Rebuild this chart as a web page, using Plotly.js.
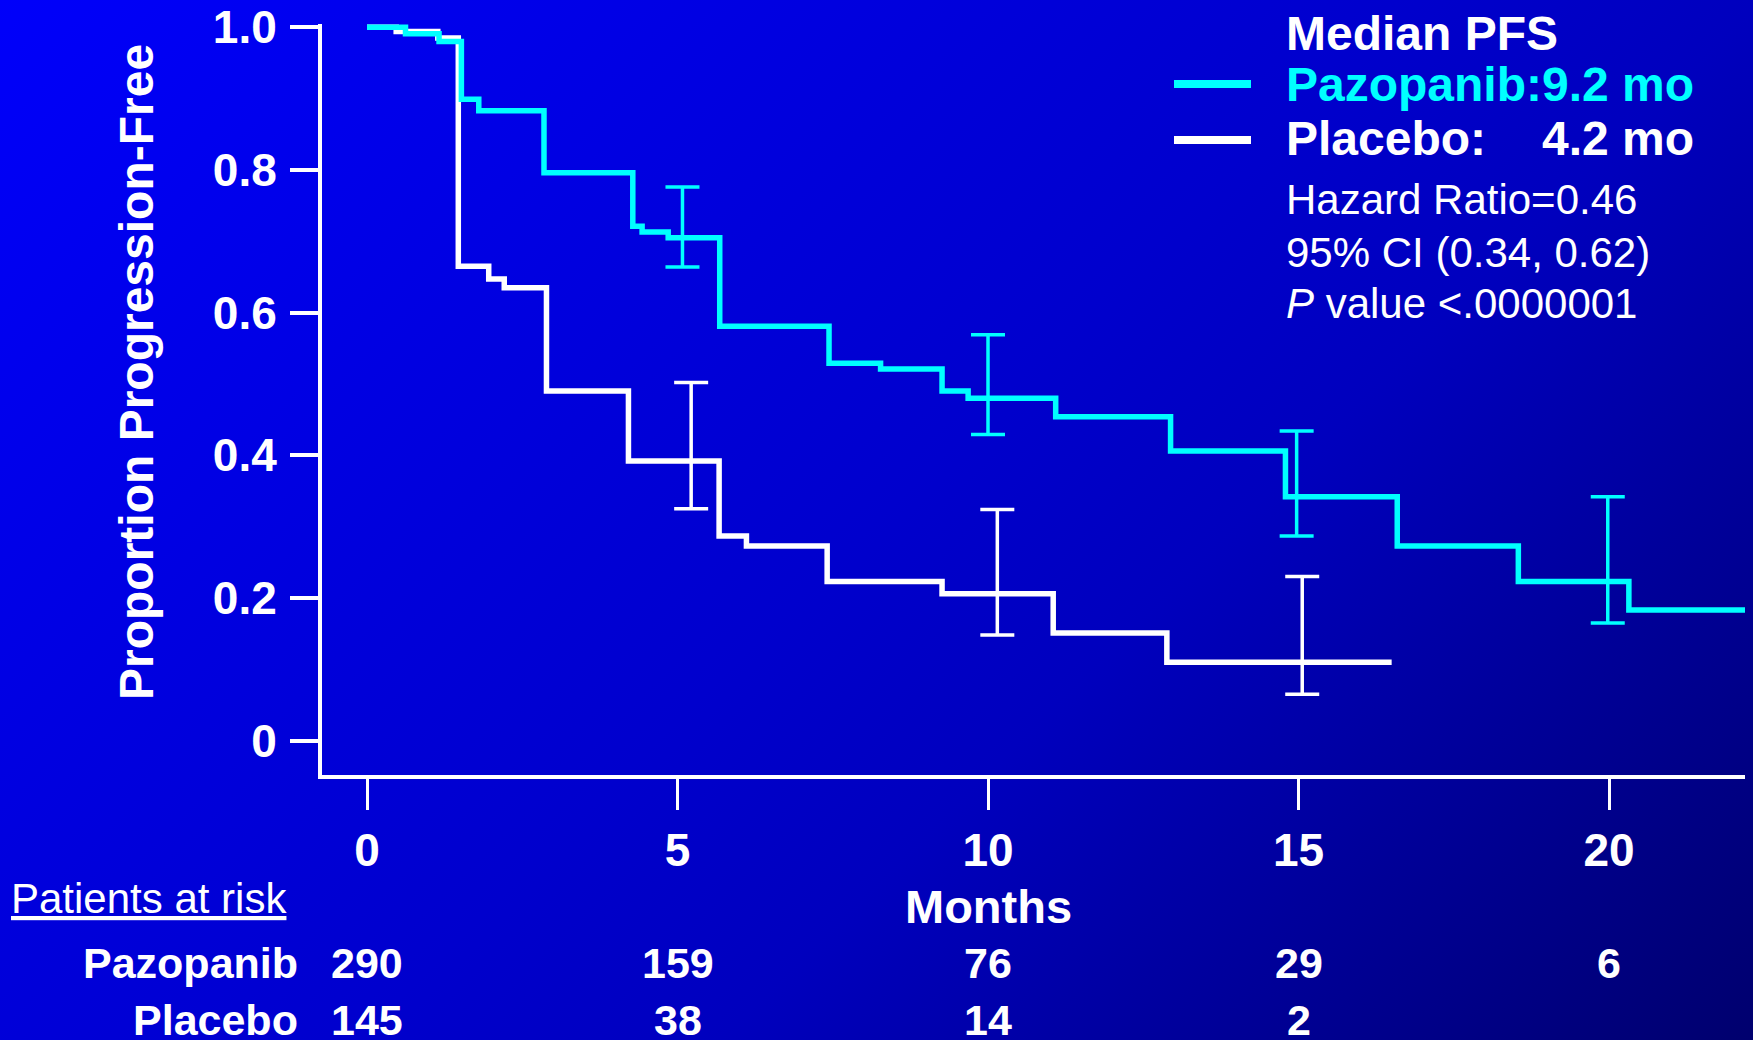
<!DOCTYPE html>
<html>
<head>
<meta charset="utf-8">
<script src="https://cdn.plot.ly/plotly-3.0.1.min.js"></script>
<style>
  html, body { margin: 0; padding: 0; }
  #chart {
    width: 1753px;
    height: 1040px;
    background: linear-gradient(135deg, #0000FA 0%, #0000CD 50%, #0000BE 63%, #00006E 100%);
  }
</style>
</head>
<body>
<div id="chart"></div>
<script>
// Kaplan–Meier progression-free survival, step starts (months) and proportion progression-free
const pazopanibMonths = [0, 0.62, 1.16, 1.52, 1.80, 2.85, 4.28, 4.43, 4.85, 5.68, 7.44, 8.27, 9.26, 9.68, 11.09, 12.94, 14.79, 16.59, 18.54, 20.32, 22.25];
const pazopanibPFS    = [1.0, 0.991, 0.980, 0.899, 0.883, 0.796, 0.721, 0.713, 0.705, 0.581, 0.529, 0.521, 0.490, 0.480, 0.454, 0.406, 0.342, 0.273, 0.223, 0.183, 0.183];

const placeboMonths = [0, 0.47, 1.14, 1.47, 1.96, 2.21, 2.89, 4.21, 5.67, 6.11, 7.41, 9.26, 11.05, 12.88, 16.50];
const placeboPFS    = [1.0, 0.994, 0.985, 0.665, 0.647, 0.635, 0.490, 0.392, 0.287, 0.273, 0.223, 0.206, 0.151, 0.110, 0.110];

// 95% confidence intervals shown at selected time points
const pazopanibCIMonths = [5.08, 10.0, 14.97, 19.98];
const pazopanibCILow    = [0.664, 0.429, 0.287, 0.165];
const pazopanibCIHigh   = [0.776, 0.569, 0.434, 0.342];

const placeboCIMonths = [5.22, 10.15, 15.06];
const placeboCILow    = [0.325, 0.148, 0.065];
const placeboCIHigh   = [0.502, 0.324, 0.230];

// Axis ticks
const xTickVals = [0, 5, 10, 15, 20];
const yTickVals = [0, 0.2, 0.4, 0.6, 0.8, 1.0];
const yTickText = ['0', '0.2', '0.4', '0.6', '0.8', '1.0'];

// Patients at risk
const riskMonths    = [0, 5, 10, 15, 20];
const riskPazopanib = [290, 159, 76, 29, 6];
const riskPlacebo   = [145, 38, 14, 2];

// Summary statistics
const medianPazopanib = '9.2 mo';
const medianPlacebo   = '4.2 mo';
const hazardRatio     = '0.46';
const ciText          = '(0.34, 0.62)';
const pValueText      = '&lt;.0000001';

const CYAN = '#00FFFF';
const WHITE = '#FFFFFF';
const FONT = 'Liberation Sans, Arial, sans-serif';

// Survival value of a step curve at time t
function stepValue(xs, ys, t) {
  let v = ys[0];
  for (let i = 0; i < xs.length; i++) { if (xs[i] <= t) v = ys[i]; }
  return v;
}

// Page geometry
const W = 1753, H = 1040;
const M = { l: 322, r: 8, t: 24, b: 265 };
const plotW = W - M.l - M.r, plotH = H - M.t - M.b;
const px = x => (x - M.l) / plotW;   // page pixel -> paper x
const py = y => (H - M.b - y) / plotH; // page pixel -> paper y

function errTrace(xs, lo, hi, curveX, curveY, color) {
  const mid = xs.map(t => stepValue(curveX, curveY, t));
  return {
    x: xs, y: mid, type: 'scatter', mode: 'markers',
    marker: { size: 1, color: 'rgba(0,0,0,0)' },
    error_y: {
      type: 'data', symmetric: false,
      array: hi.map((h, i) => h - mid[i]),
      arrayminus: lo.map((l, i) => mid[i] - l),
      color: color, thickness: 3.5, width: 17
    },
    showlegend: false, hoverinfo: 'skip'
  };
}

const traces = [
  { x: placeboMonths, y: placeboPFS, type: 'scatter', mode: 'lines',
    line: { shape: 'hv', color: WHITE, width: 5.5 }, name: 'Placebo', showlegend: false },
  { x: pazopanibMonths, y: pazopanibPFS, type: 'scatter', mode: 'lines',
    line: { shape: 'hv', color: CYAN, width: 5.5 }, name: 'Pazopanib', showlegend: false },
  errTrace(placeboCIMonths, placeboCILow, placeboCIHigh, placeboMonths, placeboPFS, WHITE),
  errTrace(pazopanibCIMonths, pazopanibCILow, pazopanibCIHigh, pazopanibMonths, pazopanibPFS, CYAN)
];

const bold = (size, color) => ({ family: FONT, size: size, color: color || WHITE, weight: 'bold' });
const regular = (size, color) => ({ family: FONT, size: size, color: color || WHITE });

function note(text, x, y, font, opts) {
  return Object.assign({
    text: text, x: px(x), y: py(y), xref: 'paper', yref: 'paper',
    xanchor: 'left', yanchor: 'middle', showarrow: false, font: font,
    borderpad: 0, borderwidth: 0
  }, opts || {});
}

const annotations = [
  note('Median PFS', 1286, 33, bold(48)),
  note('Pazopanib:' + medianPazopanib, 1286, 85, bold(48, CYAN)),
  note('Placebo:', 1286, 139, bold(48)),
  note(medianPlacebo, 1694, 139, bold(48), { xanchor: 'right' }),
  note('Hazard Ratio=' + hazardRatio, 1286, 199, regular(42)),
  note('95% CI ' + ciText, 1286, 252, regular(42)),
  note('<i>P</i> value ' + pValueText, 1286, 303, regular(42)),
  note('Proportion Progression-Free', 136, 372, bold(48), { xanchor: 'center', textangle: -90 }),
  note('Months', 0, 906, bold(47), { xref: 'x', x: 10, xanchor: 'center' }),
  note('<u>Patients at risk</u>', 11, 898, regular(42)),
  note('Pazopanib', 298, 963, bold(43), { xanchor: 'right' }),
  note('Placebo', 298, 1020, bold(43), { xanchor: 'right' })
];
riskPazopanib.forEach((n, i) => annotations.push(
  note(String(n), 0, 963, bold(43), { xref: 'x', x: riskMonths[i], xanchor: 'center' })));
riskPlacebo.forEach((n, i) => annotations.push(
  note(String(n), 0, 1020, bold(43), { xref: 'x', x: riskMonths[i], xanchor: 'center' })));

// Legend swatches
const shapes = [
  { type: 'line', xref: 'paper', yref: 'paper', x0: px(1174), x1: px(1251), y0: py(84), y1: py(84),
    line: { color: CYAN, width: 8 } },
  { type: 'line', xref: 'paper', yref: 'paper', x0: px(1174), x1: px(1251), y0: py(140), y1: py(140),
    line: { color: WHITE, width: 8 } }
];

const layout = {
  width: W, height: H,
  margin: M,
  paper_bgcolor: 'rgba(0,0,0,0)',
  plot_bgcolor: 'rgba(0,0,0,0)',
  showlegend: false,
  hovermode: false,
  xaxis: {
    range: [(M.l - 367) / 62.1, (W - M.r - 367) / 62.1],
    tickvals: xTickVals,
    ticks: 'outside', ticklen: 31, tickwidth: 3, tickcolor: WHITE,
    showline: true, linecolor: WHITE, linewidth: 3.5,
    showgrid: false, zeroline: false,
    ticklabelstandoff: 1,
    tickfont: bold(46)
  },
  yaxis: {
    range: [-0.0481, 1.0045],
    tickvals: yTickVals, ticktext: yTickText,
    ticks: 'outside', ticklen: 28, tickwidth: 4, tickcolor: WHITE,
    showline: true, linecolor: WHITE, linewidth: 4,
    showgrid: false, zeroline: false,
    ticklabelstandoff: 4,
    tickfont: bold(46)
  },
  annotations: annotations,
  shapes: shapes
};

Plotly.newPlot('chart', traces, layout, { staticPlot: true, displayModeBar: false });
</script>
</body>
</html>
